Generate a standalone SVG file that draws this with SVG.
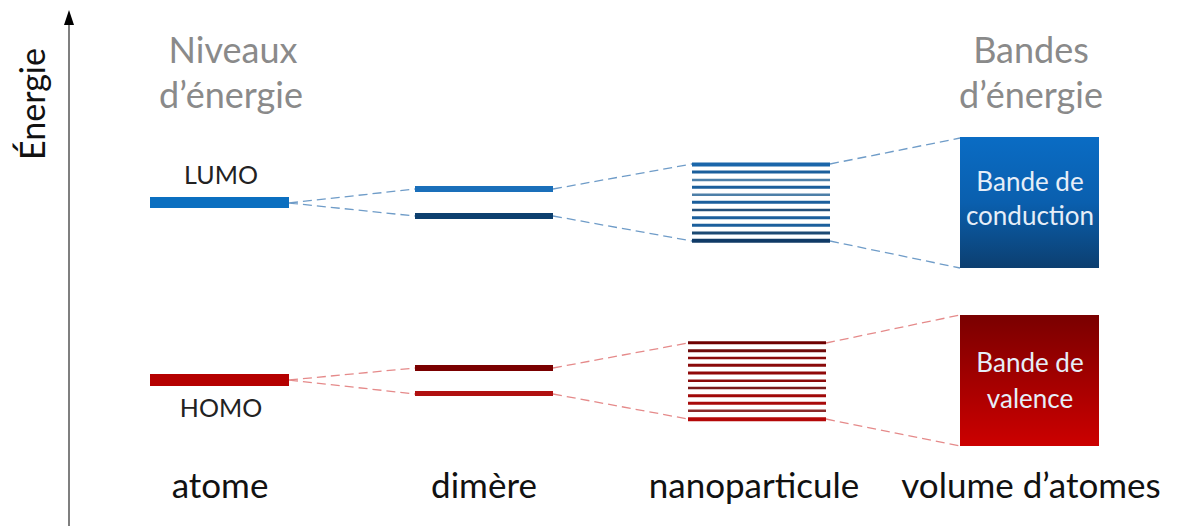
<svg xmlns="http://www.w3.org/2000/svg" width="1178" height="526" viewBox="0 0 1178 526">
<defs>
<style>
text{font-family:Lato,"Open Sans","Liberation Sans",sans-serif}
.title{font-size:36px;fill:#8a8a8a;text-anchor:middle}
.lbl{font-size:35px;fill:#111;text-anchor:middle}
.small{font-size:25px;fill:#222;text-anchor:middle}
.box{font-size:26px;fill:#e6eef8;text-anchor:middle}
.bd{stroke:#6f9cc8;stroke-width:1.3;stroke-dasharray:9 5;fill:none}
.rd{stroke:#e58a8a;stroke-width:1.3;stroke-dasharray:9 5;fill:none}
</style>
<linearGradient id="gb" x1="0" y1="0" x2="0" y2="1">
<stop offset="0" stop-color="#0a6cc4"/><stop offset="0.5" stop-color="#0a5fae"/><stop offset="1" stop-color="#0c3f70"/>
</linearGradient>
<linearGradient id="gr" x1="0" y1="0" x2="0" y2="1">
<stop offset="0" stop-color="#7a0000"/><stop offset="1" stop-color="#cc0000"/>
</linearGradient>
</defs>
<rect width="1178" height="526" fill="#fff"/>
<g id="axis">
<line x1="69" y1="526" x2="69" y2="24" stroke="#555" stroke-width="1.5"/>
<path d="M64,25 L69,10 L74,25 Z" fill="#000"/>
<text x="0" y="0" transform="translate(45,104) rotate(-90)" font-size="34" fill="#111" text-anchor="middle">Énergie</text>
</g>
<g id="titles">
<text class="title" x="233" y="63">Niveaux</text>
<text class="title" x="231" y="108">d’énergie</text>
<text class="title" x="1031" y="63">Bandes</text>
<text class="title" x="1031" y="108">d’énergie</text>
</g>
<g id="connectors">
<path class="bd" d="M289,203 L415,189 M289,203 L415,216 M553,189 L692,164 M553,216 L692,241 M830,164 L960,138 M830,241 L960,268"/>
<path class="rd" d="M289,380 L415,368 M289,380 L415,394 M553,368 L688,343 M553,394 L688,419 M826,343 L960,315 M826,419 L960,446"/>
</g>
<g id="atome">
<rect x="150" y="197" width="139" height="11" fill="#0b6fc0"/>
<text class="small" x="221" y="184">LUMO</text>
<rect x="150" y="374" width="139" height="12" fill="#b50000"/>
<text class="small" x="221" y="417">HOMO</text>
<text class="lbl" x="220" y="498">atome</text>
</g>
<g id="dimere">
<rect x="415" y="186" width="138" height="6" fill="#1a6fba"/>
<rect x="415" y="213" width="138" height="6" fill="#0d3f6e"/>
<rect x="415" y="365" width="138" height="6" fill="#7a0000"/>
<rect x="415" y="391" width="138" height="5" fill="#b01010"/>
<text class="lbl" x="484" y="498">dimère</text>
</g>
<g id="nanoparticule">
<g stroke="#1b5f9c">
<line x1="692" x2="830" y1="164.5" y2="164.5" stroke-width="4" stroke="#1a66aa"/>
<line x1="692" x2="830" y1="172" y2="172" stroke-width="3"/>
<line x1="692" x2="830" y1="180" y2="180" stroke-width="2.5" stroke="#4d7fa8"/>
<line x1="692" x2="830" y1="187.3" y2="187.3" stroke-width="3"/>
<line x1="692" x2="830" y1="194.7" y2="194.7" stroke-width="2.5" stroke="#4d7fa8"/>
<line x1="692" x2="830" y1="202.3" y2="202.3" stroke-width="3"/>
<line x1="692" x2="830" y1="210" y2="210" stroke-width="2.5" stroke="#24507a"/>
<line x1="692" x2="830" y1="217.7" y2="217.7" stroke-width="3"/>
<line x1="692" x2="830" y1="225.3" y2="225.3" stroke-width="3"/>
<line x1="692" x2="830" y1="233" y2="233" stroke-width="3" stroke="#1d4a73"/>
<line x1="692" x2="830" y1="240.7" y2="240.7" stroke-width="4" stroke="#0f3a66"/>
</g>
<g stroke="#8a0a0a">
<line x1="688" x2="826" y1="342.7" y2="342.7" stroke-width="3" stroke="#6e0000"/>
<line x1="688" x2="826" y1="350.7" y2="350.7" stroke-width="3" stroke="#6e0a0a"/>
<line x1="688" x2="826" y1="358" y2="358" stroke-width="2.5"/>
<line x1="688" x2="826" y1="365.3" y2="365.3" stroke-width="3"/>
<line x1="688" x2="826" y1="373" y2="373" stroke-width="3" stroke="#900808"/>
<line x1="688" x2="826" y1="380.7" y2="380.7" stroke-width="2.5"/>
<line x1="688" x2="826" y1="388" y2="388" stroke-width="2.5" stroke="#7a1a1a"/>
<line x1="688" x2="826" y1="395.7" y2="395.7" stroke-width="3" stroke="#a00808"/>
<line x1="688" x2="826" y1="403.3" y2="403.3" stroke-width="3" stroke="#a80a0a"/>
<line x1="688" x2="826" y1="410.7" y2="410.7" stroke-width="2.5" stroke="#8a2a2a"/>
<line x1="688" x2="826" y1="419.3" y2="419.3" stroke-width="4" stroke="#b40808"/>
</g>
<text class="lbl" x="754" y="498">nanoparticule</text>
</g>
<g id="volume">
<rect x="960" y="137" width="139" height="131" fill="url(#gb)"/>
<text class="box" x="1030" y="191">Bande de</text>
<text class="box" x="1030" y="225">conduction</text>
<rect x="960" y="315" width="139" height="131" fill="url(#gr)"/>
<text class="box" x="1030" y="372" fill="#f3dada">Bande de</text>
<text class="box" x="1030" y="408" fill="#f3dada">valence</text>
<text class="lbl" x="1031" y="498">volume d’atomes</text>
</g>
</svg>
